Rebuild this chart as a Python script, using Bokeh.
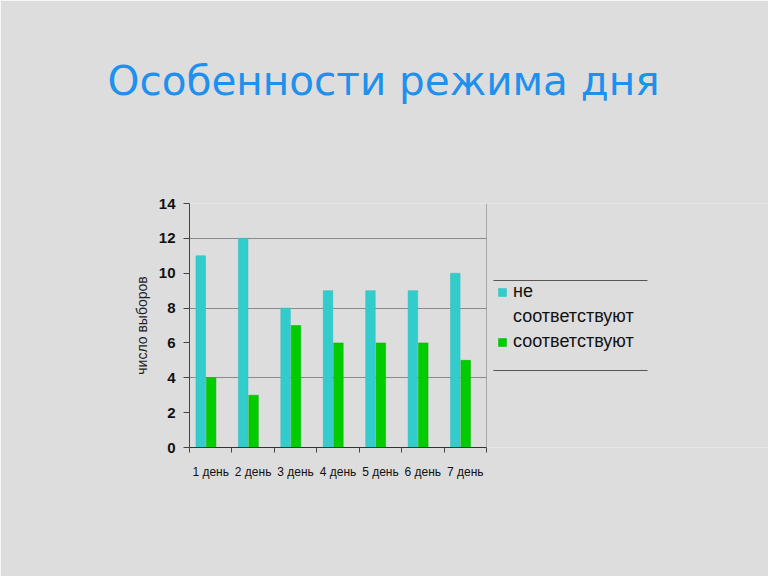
from bokeh.plotting import figure
from bokeh.models import (Legend, LegendItem, FixedTicker, BoxAnnotation, Range1d, Grid, Title)
from bokeh.embed import file_html
from bokeh.resources import INLINE

days = ["1 день", "2 день", "3 день", "4 день", "5 день", "6 день", "7 день"]
ne_sootv = [11, 12, 8, 9, 9, 9, 10]
sootv = [4, 3, 7, 6, 6, 6, 5]
y_ticks = [0, 2, 4, 6, 8, 10, 12, 14]
grid_ticks = [4, 8, 12]
title_text = "Особенности режима дня"
y_label = "число выборов"
legend_lines = ["не", "соответствуют", "соответствуют"]

BG = "#dddddd"
CYAN = "#33cccc"
GREEN = "#00cc00"

n = len(days)
FRAME_L, CHART_R, W, H = 189, 486, 768, 576
x_end = n * (W - FRAME_L) / (CHART_R - FRAME_L)

idx = list(range(n))
x_ne = [i + 0.5 - 0.235 for i in idx]
x_so = [i + 0.5 + 0.01 for i in idx]

p = figure(width=W, height=H, output_backend="svg", toolbar_location=None,
           x_range=Range1d(0, x_end), y_range=Range1d(0, y_ticks[-1]),
           min_border_left=FRAME_L, min_border_right=0, min_border_top=203,
           min_border_bottom=129)
p.background_fill_color = BG
p.border_fill_color = BG
p.outline_line_color = None

# blank spacer title (closest to the frame), then the real title above it
spacer = Title(text=" ", text_font_size="1px", standoff=96)
p.add_layout(spacer, "above")
t = Title(text=title_text, text_font="DejaVu Sans", text_font_size="40.5px",
          text_font_style="normal", text_color="#1e90ee", align="left", offset=-82,
          standoff=0)
p.add_layout(t, "above")

r1 = p.vbar(x=x_ne, top=ne_sootv, width=0.225, fill_color=CYAN, line_color="#2fbcbc", line_width=0.5)
r2 = p.vbar(x=x_so, top=sootv, width=0.225, fill_color=GREEN, line_color="#00b800", line_width=0.5)
# invisible renderer used only for the wrapped second line of the first legend entry
r_blank = p.vbar(x=[], top=[], width=0.225, fill_alpha=0, line_alpha=0)

# axes
p.yaxis.ticker = FixedTicker(ticks=y_ticks)
p.yaxis.major_tick_out = 6
p.yaxis.major_tick_in = 0
p.yaxis.minor_tick_line_color = None
p.yaxis.axis_line_color = "#444444"
p.yaxis.major_tick_line_color = "#444444"
p.yaxis.major_label_text_font = "Liberation Sans"
p.yaxis.major_label_text_font_style = "bold"
p.yaxis.major_label_text_font_size = "15px"
p.yaxis.major_label_text_color = "#111111"
p.yaxis.major_label_standoff = 8
p.yaxis.axis_label = y_label
p.yaxis.axis_label_text_font = "Liberation Sans"
p.yaxis.axis_label_text_font_style = "normal"
p.yaxis.axis_label_text_font_size = "14px"
p.yaxis.axis_label_text_color = "#222222"
p.yaxis.axis_label_standoff = 6

centers = [i + 0.5 for i in idx]
p.xaxis.bounds = (0, n)
p.xaxis.ticker = FixedTicker(ticks=centers, minor_ticks=list(range(n + 1)))
p.xaxis.major_label_overrides = {c: d for c, d in zip(centers, days)}
p.xaxis.major_tick_out = 0
p.xaxis.major_tick_in = 0
p.xaxis.minor_tick_out = 5
p.xaxis.minor_tick_in = 0
p.xaxis.minor_tick_line_color = "#444444"
p.xaxis.axis_line_color = "#333333"
p.xaxis.major_label_text_font = "Liberation Sans"
p.xaxis.major_label_text_font_size = "12px"
p.xaxis.major_label_text_color = "#111111"
p.xaxis.major_label_standoff = 12

# grid lines limited to the chart area
p.xgrid.ticker = FixedTicker(ticks=[n])
p.xgrid.grid_line_color = "#a8a8a8"
p.ygrid.ticker = FixedTicker(ticks=grid_ticks)
p.ygrid.grid_line_color = "#8a8a8a"
p.ygrid.cross_bounds = (0, n)
top_grid = Grid(dimension=1, ticker=FixedTicker(ticks=[y_ticks[-1]]),
                grid_line_color="#a8a8a8", cross_bounds=(0, n))
p.add_layout(top_grid)

# legend
legend = Legend(items=[LegendItem(label=legend_lines[0], renderers=[r1]),
                       LegendItem(label=legend_lines[1], renderers=[r_blank]),
                       LegendItem(label=legend_lines[2], renderers=[r2])],
                location=(304, 91), orientation="vertical",
                background_fill_alpha=0, border_line_alpha=0,
                label_text_font="Liberation Sans", label_text_font_size="18px",
                label_text_color="#111111", label_height=19,
                glyph_width=10, glyph_height=10, label_standoff=6,
                padding=4, spacing=4, margin=0)
p.add_layout(legend, "center")

for top in (167.5, 77.5):
    p.add_layout(BoxAnnotation(left=304, right=458, top=top, bottom=top - 1,
                               left_units="screen", right_units="screen",
                               top_units="screen", bottom_units="screen",
                               fill_color="#555555", fill_alpha=1, line_alpha=0))

open("out.html", "w").write(file_html(p, INLINE))
